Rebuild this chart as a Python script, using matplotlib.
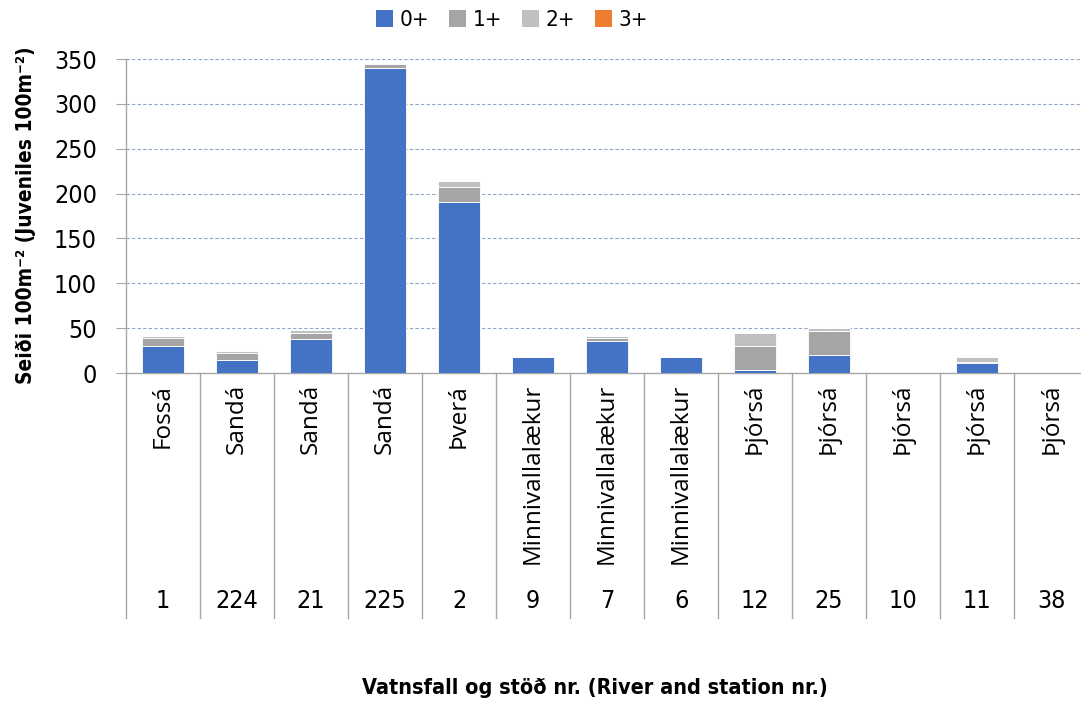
import matplotlib

matplotlib.use("Agg")
import matplotlib.pyplot as plt  # noqa: E402
import matplotlib.transforms as mtransforms  # noqa: E402
from matplotlib.patches import Patch  # noqa: E402
from matplotlib.font_manager import FontProperties  # noqa: E402
import numpy as np  # noqa: E402

rivers = ["Fossá", "Sandá", "Sandá", "Sandá", "Þverá", "Minnivallalækur", "Minnivallalækur",
          "Minnivallalækur", "Þjórsá", "Þjórsá", "Þjórsá", "Þjórsá", "Þjórsá"]
stations = ["1", "224", "21", "225", "2", "9", "7", "6", "12", "25", "10", "11", "38"]
age_0 = [30, 14.5, 38, 340, 191, 17.5, 35.7, 17.8, 3.7, 20.4, 0, 10.8, 0]
age_1 = [9.5, 7.5, 7, 4, 16.5, 0, 3.3, 0, 26.8, 26.8, 0, 1.8, 0]
age_2 = [1.5, 2.5, 2.5, 1.5, 6, 0, 2, 0, 13.7, 3, 0, 4.9, 0]
age_3 = [0, 0, 0, 0, 0, 0, 0, 0, 0, 0, 0, 0, 0]
series_labels = ["0+", "1+", "2+", "3+"]
series_colors = ["#4472C4", "#A5A5A5", "#C0C0C0", "#ED7D31"]

PLAIN = ["Open Sans", "DejaVu Sans"]


def narrow(size, weight="normal"):
    # DejaVu Sans Condensed stands in for the narrow Office font of the original
    return FontProperties(family=["DejaVu Sans"], stretch="condensed", size=size, weight=weight)


fig = plt.figure(figsize=(10.81, 7.01), dpi=100)
ax = fig.add_axes([0.1166, 0.4679, 0.890, 0.4479])

x = np.arange(len(rivers))
bottom = np.zeros(len(rivers))
for vals, color in zip([age_0, age_1, age_2, age_3], series_colors):
    vals = np.array(vals, dtype=float)
    ax.bar(x, vals, width=0.57, bottom=bottom, color=color, edgecolor="white", linewidth=0.6, zorder=3)
    bottom += vals

ax.set_xlim(-0.5, len(rivers) - 0.5)
ax.set_ylim(0, 350)
ax.set_yticks(np.arange(0, 351, 50))
ax.set_yticklabels([str(v) for v in range(0, 351, 50)], fontproperties=narrow(18))
for y in range(50, 351, 50):
    ax.axhline(y, color="#8FA6C4", linestyle=(0, (3, 2)), linewidth=0.8, zorder=1)
ax.set_xticks([])
for side in ("top", "right"):
    ax.spines[side].set_visible(False)
for side in ("left", "bottom"):
    ax.spines[side].set_color("#A6A6A6")
    ax.spines[side].set_linewidth(1.0)
ax.tick_params(axis="y", length=7, color="#A6A6A6", pad=14)

# two-level category axis: river names + station numbers, with separators
trans = mtransforms.blended_transform_factory(ax.transData, ax.transAxes)
for b in np.arange(-0.5, len(rivers), 1.0):
    ax.plot([b, b], [0, -0.78], transform=trans, color="#A6A6A6", linewidth=1.0, clip_on=False)
for i, (name, st) in enumerate(zip(rivers, stations)):
    ax.text(i, -0.035, name, rotation=90, ha="center", va="top", transform=trans,
            family=PLAIN, fontsize=17.5)
    ax.text(i, -0.726, st, ha="center", va="center", transform=trans,
            fontproperties=narrow(18))

fig.text(0.55, 0.0185, "Vatnsfall og stöð nr. (River and station nr.)", ha="center", va="center",
         fontproperties=narrow(15.5, "bold"))
fig.text(0.024, 0.693, "Seiði 100m⁻² (Juveniles 100m⁻²)", ha="center", va="center", rotation=90,
         fontproperties=narrow(15, "bold"))

handles = [Patch(facecolor=c, edgecolor="none") for c in series_colors]
leg = fig.legend(handles, series_labels, loc="center", bbox_to_anchor=(0.4736, 0.971), ncol=4,
                 frameon=False, handlelength=0.75, handleheight=0.75, handletextpad=0.3,
                 columnspacing=0.9, prop=narrow(16))

fig.savefig("out.png", dpi=100)
